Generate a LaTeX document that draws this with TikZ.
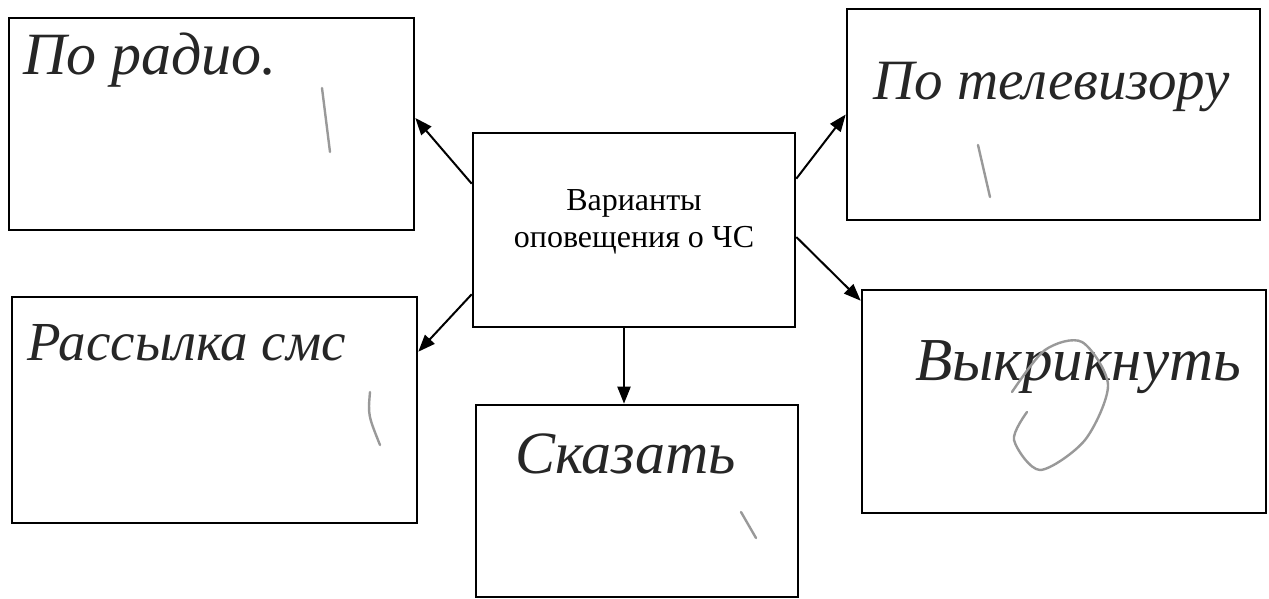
\documentclass[tikz,border=0pt]{standalone}
\usepackage{fontspec}
\setmainfont{Liberation Serif}
\usetikzlibrary{arrows.meta}
\begin{document}
\begin{tikzpicture}[x=1pt,y=-1pt,
  box/.style={draw, line width=2.6pt, inner sep=0pt},
  conn/.style={line width=2pt, -{Triangle[length=17pt,width=13pt]}},
  hand/.style={anchor=base west, inner sep=0pt, text=black!85},
  score/.style={draw=black!40, line width=2.4pt, line cap=round}
]
\useasboundingbox[fill=white] (0,0) rectangle (1269,599);
% boxes
\node[box, minimum width=405pt, minimum height=212pt] (tl) at (211.5,124) {};
\node[box, minimum width=405pt, minimum height=226pt] (bl) at (214.5,410) {};
\node[box, minimum width=322pt, minimum height=194pt] (c)  at (634,230) {};
\node[box, minimum width=322pt, minimum height=192pt] (b)  at (637,501) {};
\node[box, minimum width=413pt, minimum height=211pt] (tr) at (1053.5,114.5) {};
\node[box, minimum width=404pt, minimum height=223pt] (br) at (1064,401.5) {};
% central text
\node[align=center, inner sep=0pt, font=\fontsize{32}{37}\selectfont] (ct) at ([yshift=8pt]c.center) {Варианты\\оповещения о ЧС};
% connectors
\draw[conn] ([yshift=-52pt]c.north west) -- ([yshift=6pt]tl.east);
\draw[conn] ([yshift=34pt]c.south west) -- ([yshift=-56pt]bl.north east);
\draw[conn] ([yshift=-47pt]c.north east) -- (tr.west);
\draw[conn] ([yshift=-7pt]c.east) -- ([yshift=-12pt]br.north west);
\draw[conn] ([xshift=-10pt]c.south) -- ([xshift=-10pt]c.south |- b.north);
% handwritten answers
\node[hand, font=\itshape\fontsize{60}{62}\selectfont] (t1) at (23,75) {По радио.};
\node[hand, font=\itshape\fontsize{57}{59}\selectfont] (t2) at (873,100) {По телевизору};
\node[hand, font=\itshape\fontsize{55}{57}\selectfont] (t3) at (27,360) {Рассылка смс};
\node[hand, font=\itshape\fontsize{60}{62}\selectfont] (t4) at (515,473) {Сказать};
\node[hand, font=\itshape\fontsize{61}{63}\selectfont] (t5) at (915,380) {Выкрикнуть};
% grader marks
\draw[score] (322,88) -- (330,152);
\draw[score] (978,145) -- (990,197);
\draw[score] (370,392) .. controls (368,415) .. (380,445);
\draw[score] (741,512) -- (756,538);
\draw[score] plot[smooth] coordinates {(1027,412) (1014,440) (1040,470) (1085,440) (1108,385) (1082,342) (1045,350) (1012,392)};
\end{tikzpicture}
\end{document}
